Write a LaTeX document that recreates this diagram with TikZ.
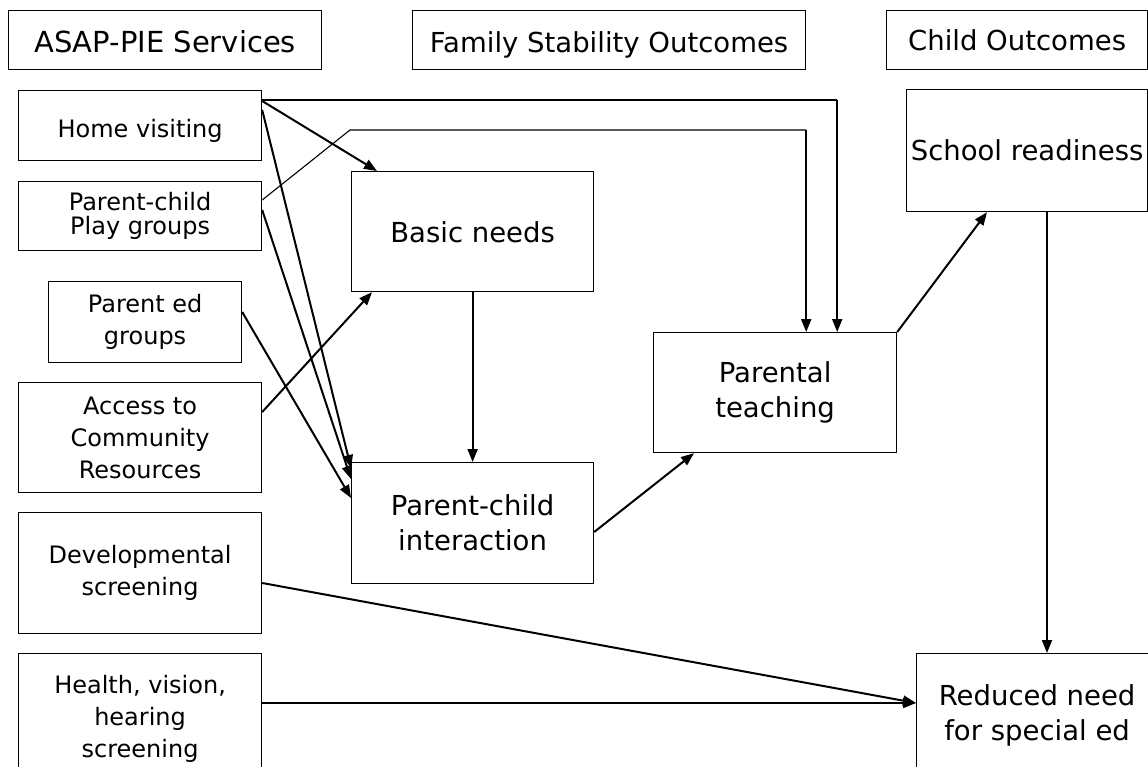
\documentclass[tikz,border=0pt]{standalone}
\usepackage{fontspec}
\setmainfont{DejaVu Sans}
\usetikzlibrary{arrows.meta,calc}
\begin{document}
\begin{tikzpicture}[x=1pt,y=-1pt,
  box/.style={draw, line width=1.2pt, inner sep=0pt, anchor=north west, align=center},
  small/.style={font=\fontsize{24}{32}\selectfont},
  big/.style={font=\fontsize{27.5}{35}\selectfont},
  arr/.style={line width=2pt, -{Triangle[length=13pt,width=10pt]}},
  route/.style={line width=1.1pt},
]
\useasboundingbox (0,0) rectangle (1148,767);
\clip (0,0) rectangle (1148,767);
\fill[white] (0,0) rectangle (1148,767);

% column headers
\node[box,font=\fontsize{29}{35}\selectfont,text height=25pt,text depth=0pt,minimum width=313pt,minimum height=59pt] (hdrA) at (8,10) {ASAP-PIE Services};
\node[box,big,text height=25pt,text depth=0pt,minimum width=393pt,minimum height=59pt] (hdrF) at (412,10) {Family Stability Outcomes};
\node[box,big,text height=21pt,text depth=0pt,minimum width=261pt,minimum height=59pt] (hdrC) at (886,10) {Child Outcomes};

% services
\node[box,small,text height=24pt,text depth=0pt,minimum width=243pt,minimum height=70pt] (hv) at (18,90) {Home visiting};
\node[box,font=\fontsize{24}{24}\selectfont,minimum width=243pt,minimum height=69pt] (pg) at (18,181) {Parent-child\\Play groups};
\node[box,small,minimum width=193pt,minimum height=81pt] (pe) at (48,281) {Parent ed\\groups};
\node[box,small,minimum width=243pt,minimum height=110pt] (acr) at (18,382) {Access to\\Community\\Resources};
\node[box,small,minimum width=243pt,minimum height=121pt] (dev) at (18,512) {Developmental\\screening};
\node[box,small,minimum width=243pt,minimum height=130pt] (hlt) at (18,653) {Health, vision,\\hearing\\screening};

% family stability outcomes
\node[box,big,text height=22pt,text depth=0pt,minimum width=242pt,minimum height=120pt] (bn) at (351,171) {Basic needs};
\node[box,big,minimum width=242pt,minimum height=121pt] (pci) at (351,462) {Parent-child\\interaction};
\node[box,big,minimum width=243pt,minimum height=120pt] (pt) at (653,332) {Parental\\teaching};

% child outcomes
\node[box,big,text height=20pt,text depth=0pt,minimum width=241pt,minimum height=122pt] (sr) at (906,89) {School readiness};
\node[box,big,minimum width=241pt,minimum height=124pt] (rn) at (916,653) {Reduced need\\for special ed};

% routed connectors into parental teaching
\coordinate (hvR) at ([xshift=-60pt]pt.north east |- hv.north);
\coordinate (hvT) at ([yshift=-10pt]hvR);
\coordinate (pgK) at (350,130);
\coordinate (pgT) at ([xshift=-91pt]pt.north east |- pgK);
\draw[route] ([yshift=-10pt]hv.north east) -- (hvT);
\draw[arr] (hvT) -- ([xshift=-60pt]pt.north east);
\draw[route] ([yshift=-19pt]pg.north east) -- (pgK) -- (pgT);
\draw[arr] (pgT) -- ([xshift=-91pt]pt.north east);

% direct connectors
\draw[arr] ([yshift=-11pt]hv.north east) -- ([xshift=26pt]bn.north west);
\draw[arr] ([yshift=-20pt]hv.north east) -- ([yshift=-6pt]pci.north west);
\draw[arr] ([yshift=-29pt]pg.north east) -- ([yshift=-17pt]pci.north west);
\draw[arr] ([yshift=-31pt]pe.north east) -- ([yshift=-36pt]pci.north west);
\draw[arr] ([yshift=-30pt]acr.north east) -- ([xshift=21pt]bn.south west);
\draw[arr] (bn.south) -- (pci.north);
\draw[arr] ([yshift=-70pt]pci.north east) -- ([xshift=41pt]pt.south west);
\draw[arr] (pt.north east) -- ([xshift=81pt]sr.south west);
\draw[arr] ([xshift=141pt]sr.south west) -- ([xshift=131pt]rn.north west);
\draw[arr] ([yshift=-71pt]dev.north east) -- ([yshift=-50pt]rn.north west);
\draw[arr] ([yshift=-50pt]hlt.north east) -- ([yshift=-50pt]rn.north west);
\end{tikzpicture}
\end{document}
